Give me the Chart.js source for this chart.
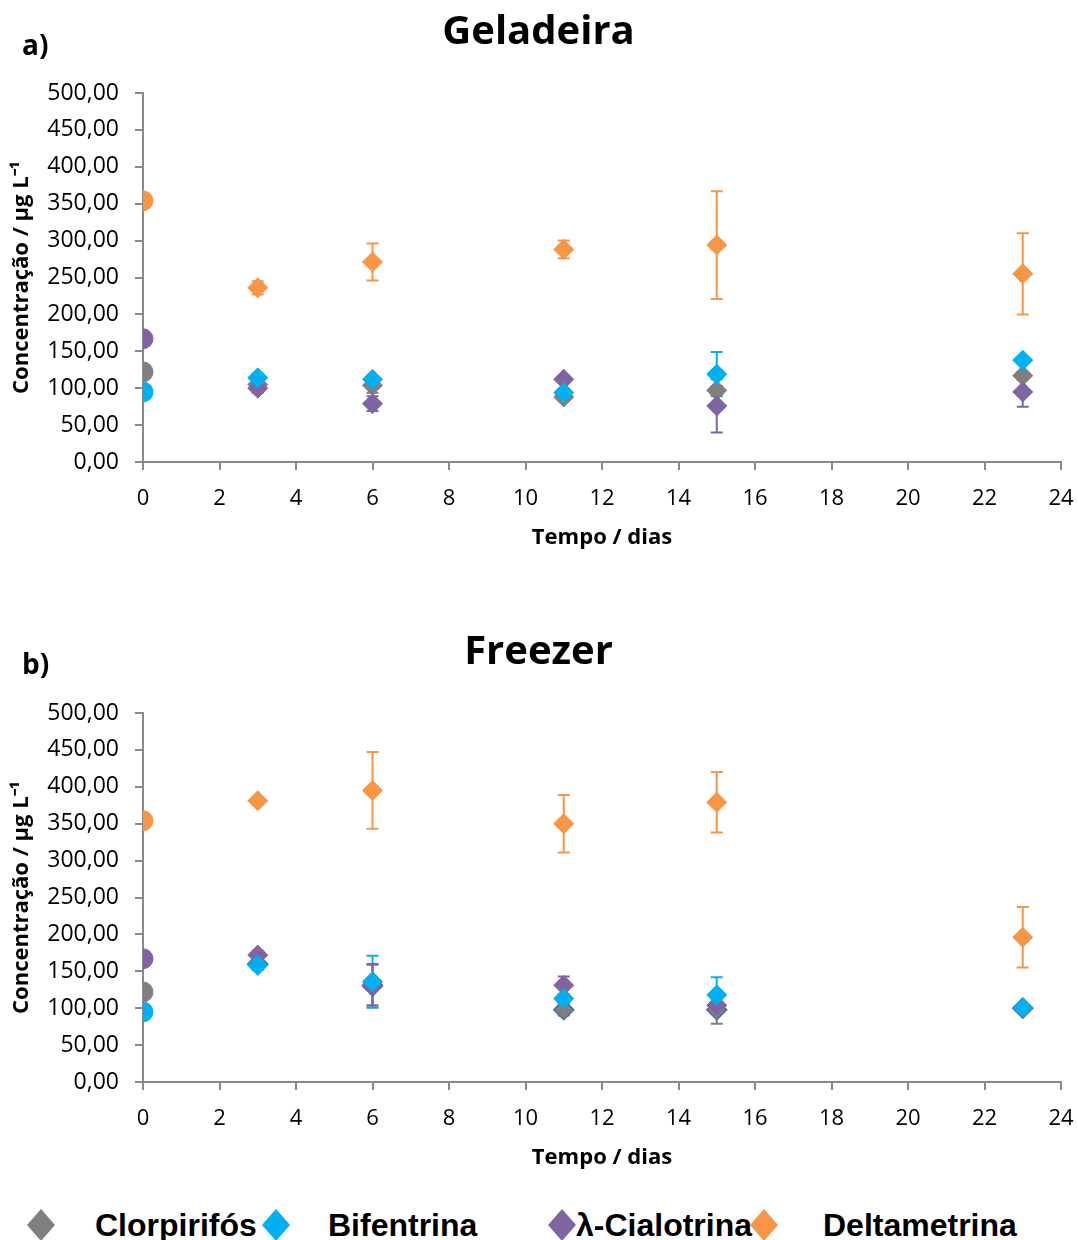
<!DOCTYPE html>
<html>
<head>
<meta charset="utf-8">
<script src="https://cdn.jsdelivr.net/npm/chart.js@4.4.1/dist/chart.umd.min.js"></script>
<style>
  body { margin: 0; background: #fff; width: 1078px; height: 1240px; position: relative; overflow: hidden; }
  .box { position: absolute; left: 0; width: 1078px; height: 580px; }
  .tag { position: absolute; left: 22px; font: bold 28px "Open Sans"; color: #000; line-height: 32px; }
  .leg { position: absolute; top: 1207px; font: bold 32px "Liberation Sans"; color: #000; line-height: 36px; white-space: nowrap; }
  .dia { position: absolute; top: 1209px; }
</style>
</head>
<body>
<div class="box" style="top:0"><canvas id="gel"></canvas></div>
<div class="box" style="top:620px"><canvas id="frz"></canvas></div>
<div class="tag" style="top:28px">a)</div>
<div class="tag" style="top:647px">b)</div>

<svg class="dia" style="left:27px" width="28" height="32"><polygon points="14,0 28,16 14,32 0,16" fill="#7f7f7f"/></svg>
<div class="leg" style="left:95px">Clorpirifós</div>
<svg class="dia" style="left:262px" width="28" height="32"><polygon points="14,0 28,16 14,32 0,16" fill="#00b0f0"/></svg>
<div class="leg" style="left:328px">Bifentrina</div>
<svg class="dia" style="left:548px" width="28" height="32"><polygon points="14,0 28,16 14,32 0,16" fill="#8064a2"/></svg>
<div class="leg" style="left:576px">λ-Cialotrina</div>
<svg class="dia" style="left:750px" width="28" height="32"><polygon points="14,0 28,16 14,32 0,16" fill="#f79646"/></svg>
<div class="leg" style="left:823px">Deltametrina</div>

<script>
// sampling days (day 0 is the initial concentration, drawn as circles)
const days = [3, 6, 11, 15, 23];
const initDay = 0;
const initClor = 122, initBif = 95, initCial = 167, initDelt = 354;

// Geladeira
const clorGel = [105, 104, 88, 97, 117];
const clorGelErr = [6, 10, 5, 6, 5];
const bifGel = [114, 112, 94, 119, 138];
const bifGelErr = [6, 5, 5, 30, 4];
const cialGel = [100, 79, 112, 76, 95];
const cialGelErr = [6, 10, 5, 36, 20];
const deltGel = [236, 271, 288, 294, 255];
const deltGelErr = [9, 25, 12, 73, 55];

// Freezer
const clorFrz = [160, 130, 98, 98, 100];
const clorFrzErr = [6, 29, 8, 19, 4];
const bifFrz = [158, 136, 113, 118, 101];
const bifFrzErr = [6, 35, 6, 24, 4];
const cialFrz = [172, 132, 131, 104, 100];
const cialFrzErr = [6, 28, 12, 8, 4];
const deltFrz = [381, 395, 350, 379, 196];
const deltFrzErr = [5, 52, 39, 41, 41];

const GRAY = "#7f7f7f", BLUE = "#00b0f0", PURPLE = "#8064a2", ORANGE = "#f79646";
const AXIS = "#898989";

const errorBars = {
  id: "errorBars",
  beforeDatasetsDraw(chart) {
    const { ctx, scales: { x, y } } = chart;
    chart.data.datasets.forEach((ds) => {
      if (!ds.errors) return;
      ctx.save();
      ctx.strokeStyle = ds.backgroundColor;
      ctx.lineWidth = 2;
      ds.data.forEach((p, i) => {
        const e = ds.errors[i];
        if (!e) return;
        const px = x.getPixelForValue(p.x);
        const top = y.getPixelForValue(p.y + e);
        const bot = y.getPixelForValue(p.y - e);
        ctx.beginPath();
        ctx.moveTo(px, top); ctx.lineTo(px, bot);
        ctx.moveTo(px - 6, top); ctx.lineTo(px + 6, top);
        ctx.moveTo(px - 6, bot); ctx.lineTo(px + 6, bot);
        ctx.stroke();
      });
      ctx.restore();
    });
  },
};

function pts(vals) {
  return days.map((d, i) => ({ x: d, y: vals[i] }));
}

function series(label, color, vals, errs, order, border) {
  return {
    label, data: pts(vals), errors: errs, order,
    backgroundColor: color, borderColor: border || color, borderWidth: border ? 1.5 : 1,
    pointStyle: "rectRot", pointRadius: 10, pointHoverRadius: 10,
  };
}

function initial(color, val, order) {
  return {
    label: "Inicial", data: [{ x: initDay, y: val }], order,
    backgroundColor: color, borderColor: color, borderWidth: 1,
    pointStyle: "circle", pointRadius: 10, pointHoverRadius: 10,
  };
}

function makeChart(id, title, sets) {
  new Chart(document.getElementById(id), {
    type: "scatter",
    data: { datasets: sets },
    options: {
      responsive: true,
      maintainAspectRatio: false,
      animation: false,
      layout: { padding: { left: 16, right: 17, top: 0, bottom: 0 } },
      plugins: {
        legend: { display: false },
        tooltip: { enabled: false },
        title: {
          display: true, text: title, color: "#000",
          font: { family: "Open Sans", size: 40, weight: "bold" },
          padding: { top: 9, bottom: 36 },
        },
      },
      scales: {
        x: {
          type: "linear", min: 0, max: 24,
          ticks: { stepSize: 2, autoSkip: false, color: "#000", padding: 16, font: { family: "Open Sans", size: 22 } },
          grid: { drawOnChartArea: false, drawTicks: true, tickLength: 8, color: AXIS, lineWidth: 2 },
          border: { color: AXIS, width: 2 },
          title: {
            display: true, text: "Tempo / dias", color: "#000",
            font: { family: "Open Sans", size: 22, weight: "bold" },
            padding: { top: 0, bottom: 29 },
          },
          afterFit(s) { s.height = 118; s.paddingRight = 0; s.paddingLeft = 0; },
        },
        y: {
          min: 0, max: 500,
          ticks: {
            stepSize: 50, color: "#000", padding: 16,
            font: { family: "Open Sans", size: 23 },
            callback: (v) => v.toFixed(2).replace(".", ","),
          },
          grid: { drawOnChartArea: false, drawTicks: true, tickLength: 8, color: AXIS, lineWidth: 2 },
          border: { color: AXIS, width: 2 },
          title: {
            display: true, text: "Concentração / µg L⁻¹", color: "#000",
            font: { family: "Open Sans", size: 22, weight: "bold" },
            padding: { top: -7, bottom: 0 },
          },
          afterFit(s) { s.width = 127; },
        },
      },
    },
    plugins: [errorBars],
  });
}

makeChart("gel", "Geladeira", [
  series("Clorpirifós", GRAY, clorGel, clorGelErr, 3),
  series("Bifentrina", BLUE, bifGel, bifGelErr, 1),
  series("λ-Cialotrina", PURPLE, cialGel, cialGelErr, 2),
  series("Deltametrina", ORANGE, deltGel, deltGelErr, 0),
  initial(GRAY, initClor, 5),
  initial(BLUE, initBif, 4),
  initial(PURPLE, initCial, 6),
  initial(ORANGE, initDelt, 7),
]);

makeChart("frz", "Freezer", [
  series("Clorpirifós", GRAY, clorFrz, clorFrzErr, 3, "#4a6ea8"),
  series("Bifentrina", BLUE, bifFrz, bifFrzErr, 1),
  series("λ-Cialotrina", PURPLE, cialFrz, cialFrzErr, 2),
  series("Deltametrina", ORANGE, deltFrz, deltFrzErr, 0),
  initial(GRAY, initClor, 5),
  initial(BLUE, initBif, 4),
  initial(PURPLE, initCial, 6),
  initial(ORANGE, initDelt, 7),
]);
</script>
</body>
</html>
